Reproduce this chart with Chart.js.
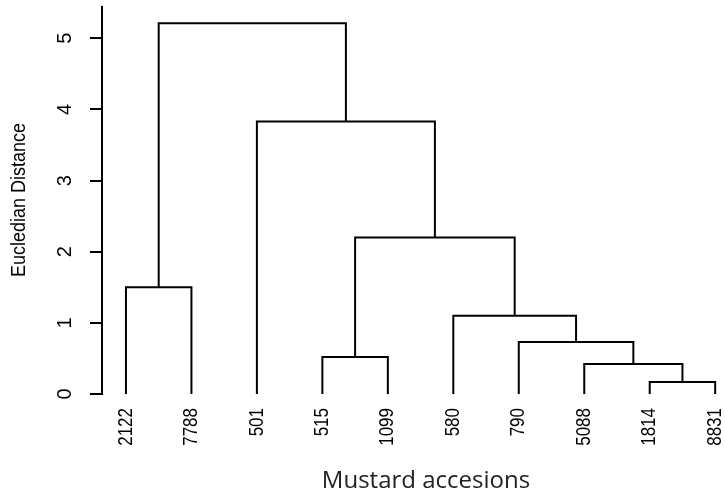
<!DOCTYPE html>
<html>
<head>
<meta charset="utf-8">
<style>
  html, body { margin: 0; padding: 0; background: #fff; }
  #wrap { width: 725px; height: 498px; }
</style>
<script src="https://cdn.jsdelivr.net/npm/chart.js@4/dist/chart.umd.min.js"></script>
</head>
<body>
<div id="wrap"><canvas id="dendro" width="725" height="498"></canvas></div>
<script>
// Leaves in the order they appear along the x axis
const leafLabels = ['2122', '7788', '501', '515', '1099', '580', '790', '5088', '1814', '8831'];

// hclust-style merge table: negative = leaf (1-based), positive = earlier merge (1-based)
const mergePairs = [
    [-9, -10],
    [-8, 1],
    [-4, -5],
    [-7, 2],
    [-6, 4],
    [-1, -2],
    [3, 5],
    [-3, 7],
    [6, 8]
];
const mergeHeights = [0.17, 0.42, 0.52, 0.73, 1.1, 1.5, 2.2, 3.83, 5.21];

const yTicks = [0, 1, 2, 3, 4, 5];

document.addEventListener('DOMContentLoaded', function() {
    const ctx = document.getElementById('dendro').getContext('2d');
    const tickFont = '"Liberation Sans", Arial, sans-serif';

    // Position and height of a node in the tree
    const nodeX = [];
    function childPos(id) {
        if (id < 0) return { x: -id, h: 0 };
        return { x: nodeX[id - 1], h: mergeHeights[id - 1] };
    }

    // One dataset per merge: left leg, crossbar, right leg
    const datasets = mergePairs.map((pair, i) => {
        const a = childPos(pair[0]);
        const b = childPos(pair[1]);
        const h = mergeHeights[i];
        nodeX[i] = (a.x + b.x) / 2;
        return {
            data: [
                { x: a.x, y: a.h },
                { x: a.x, y: h },
                { x: b.x, y: h },
                { x: b.x, y: b.h }
            ],
            showLine: true,
            borderColor: '#000',
            borderWidth: 2,
            pointRadius: 0,
            fill: false,
            tension: 0
        };
    });

    // draws text rotated 90deg, glyphs a bit stretched like the original plot
    function drawRotated(c, text, x, y, align, stretch) {
        c.save();
        c.translate(x, y);
        c.rotate(-Math.PI / 2);
        c.scale(1, stretch);
        c.textAlign = align;
        c.textBaseline = 'middle';
        c.fillText(text, 0, 0);
        c.restore();
    }

    // R-style labels: rotated tick labels on both axes plus titles
    const rStyleLabels = {
        id: 'rStyleLabels',
        afterDraw(chart) {
            const xs = chart.scales.x;
            const ys = chart.scales.y;
            const c = chart.ctx;
            c.save();
            c.fillStyle = '#000';

            c.font = '20px ' + tickFont;
            yTicks.forEach(v => {
                drawRotated(c, String(v), 65, ys.getPixelForValue(v), 'center', 1.05);
            });

            c.font = '17px ' + tickFont;
            leafLabels.forEach((lab, i) => {
                drawRotated(c, lab, xs.getPixelForValue(i + 1), 408, 'right', 1.2);
            });

            c.font = '18px ' + tickFont;
            drawRotated(c, 'Eucledian Distance', 20, 200, 'center', 1.1);

            c.fillStyle = '#222';
            c.font = '24px "Open Sans", sans-serif';
            c.textAlign = 'center';
            c.textBaseline = 'middle';
            c.fillText('Mustard accesions', 426, 481);
            c.restore();
        }
    };

    new Chart(ctx, {
        type: 'scatter',
        data: { datasets: datasets },
        options: {
            responsive: false,
            animation: false,
            layout: { padding: { top: 7, right: 0, bottom: 0, left: 0 } },
            plugins: {
                legend: { display: false },
                tooltip: { enabled: false }
            },
            scales: {
                x: {
                    type: 'linear',
                    min: 0.634,
                    max: 10.15,
                    grid: { display: false, drawTicks: false },
                    border: { display: false },
                    afterBuildTicks: function(scale) {
                        scale.ticks = leafLabels.map((_, i) => ({ value: i + 1 }));
                    },
                    afterFit: function(scale) {
                        scale.height = 104;
                    },
                    ticks: { display: false }
                },
                y: {
                    type: 'linear',
                    min: 0,
                    max: 5.44,
                    afterBuildTicks: function(scale) {
                        scale.ticks = yTicks.map(v => ({ value: v }));
                    },
                    afterFit: function(scale) {
                        scale.width = 102;
                    },
                    grid: {
                        drawOnChartArea: false,
                        drawTicks: true,
                        tickLength: 12,
                        color: '#000',
                        lineWidth: 2
                    },
                    border: { display: true, color: '#000', width: 2 },
                    ticks: { display: false }
                }
            }
        },
        plugins: [rStyleLabels]
    });
});
</script>
</body>
</html>
